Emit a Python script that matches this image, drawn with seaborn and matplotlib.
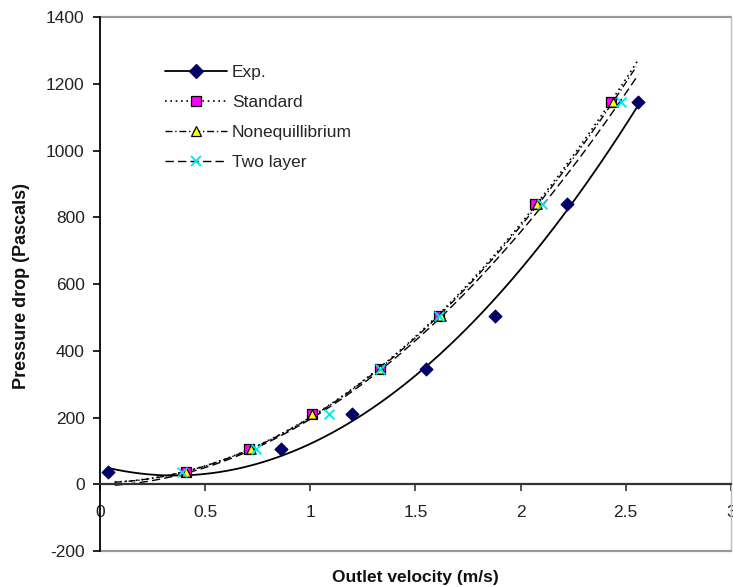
import numpy as np
import pandas as pd
import matplotlib
matplotlib.use("Agg")
import matplotlib.pyplot as plt
from matplotlib.lines import Line2D
import seaborn as sns

sns.set_style("white")
plt.rcParams["font.family"] = ["Liberation Sans", "DejaVu Sans"]

# Pressure drop measured at each operating point (Pa)
pressure_drop = [38, 105, 210, 345, 505, 840, 1145]

# Outlet velocity (m/s) for experiment and the three wall treatments
exp_velocity = [0.04, 0.86, 1.20, 1.55, 1.88, 2.22, 2.56]
standard_velocity = [0.41, 0.71, 1.01, 1.33, 1.61, 2.07, 2.43]
noneq_velocity = [0.41, 0.72, 1.01, 1.33, 1.62, 2.08, 2.44]
twolayer_velocity = [0.39, 0.74, 1.09, 1.33, 1.61, 2.10, 2.48]

series_names = ["Exp.", "Standard", "Nonequillibrium", "Two layer"]
x_ticks = [0, 0.5, 1, 1.5, 2, 2.5, 3]
y_ticks = [-200, 0, 200, 400, 600, 800, 1000, 1200, 1400]

velocities = [exp_velocity, standard_velocity, noneq_velocity, twolayer_velocity]
styles = {
    "Exp.": dict(marker="D", face="#000066", edge="#000066", size=42, ls="-", lw=1.3, span=(0.04, 2.56)),
    "Standard": dict(marker="s", face="#FF00FF", edge="black", size=45, ls=(0, (1, 2.2)), lw=1.2, span=(0.07, 2.56)),
    "Nonequillibrium": dict(marker="^", face="#FFFF00", edge="black", size=45, ls=(0, (5, 2, 1, 2)), lw=1.0, span=(0.07, 2.55)),
    "Two layer": dict(marker="x", face="#00E5EE", edge="#00E5EE", size=50, ls=(0, (6, 3)), lw=1.0, span=(0.07, 2.56)),
}

FS = 12.5

fig = plt.figure(figsize=(7.33, 5.87), dpi=100)
ax = fig.add_axes([0.1364, 0.0613, 0.8606, 0.9097])

for name, vel in zip(series_names, velocities):
    st = styles[name]
    df = pd.DataFrame({"v": vel, "dp": pressure_drop})
    # second-order polynomial trendline through each series
    coef = np.polyfit(df["v"], df["dp"], 2)
    xs = np.linspace(st["span"][0], st["span"][1], 200)
    trend = pd.DataFrame({"v": xs, "dp": np.polyval(coef, xs)})
    sns.lineplot(data=trend, x="v", y="dp", ax=ax, color="black",
                 linestyle=st["ls"], linewidth=st["lw"], sort=False, zorder=2)
    if st["marker"] == "x":
        sns.scatterplot(data=df, x="v", y="dp", ax=ax, marker="x", s=st["size"],
                        color=st["face"], linewidth=1.3, zorder=3)
    else:
        sns.scatterplot(data=df, x="v", y="dp", ax=ax, marker=st["marker"], s=st["size"],
                        color=st["face"], edgecolor=st["edge"], linewidth=0.9, zorder=3)

ax.set_xlim(0, 3)
ax.set_ylim(-200, 1400)
ax.set_xticks(x_ticks)
ax.set_xticklabels(["0", "0.5", "1", "1.5", "2", "2.5", "3"])
ax.set_yticks(y_ticks)
ax.set_yticklabels([str(v) for v in y_ticks])

# x axis runs along zero pressure drop, plot frame drawn in grey
ax.spines["bottom"].set_position(("data", 0))
ax.spines["bottom"].set_color("#333333")
ax.spines["bottom"].set_linewidth(1.6)
ax.spines["left"].set_color("black")
ax.spines["left"].set_linewidth(1.3)
ax.spines["top"].set_visible(False)
ax.spines["right"].set_visible(False)
ax.plot([0, 1], [1, 1], transform=ax.transAxes, color="#999999", lw=1.6, clip_on=False, zorder=1)
ax.plot([1, 1], [0, 1], transform=ax.transAxes, color="#bbbbbb", lw=1.0, clip_on=False, zorder=1)
ax.plot([0, 1], [0, 0], transform=ax.transAxes, color="#999999", lw=1.6, clip_on=False, zorder=1)

ax.tick_params(axis="x", direction="out", length=5, width=1.2, color="#333333",
               pad=10, labelsize=FS, labelcolor="#222222", bottom=True)
ax.tick_params(axis="y", direction="out", length=5, width=1.2, color="black",
               pad=6, labelsize=FS, labelcolor="#222222", left=True)

ax.set_xlabel("")
ax.set_ylabel("")
fig.text(0.567, 0.017, "Outlet velocity (m/s)", ha="center", va="center",
         fontsize=FS, fontweight="bold", color="#111111")
fig.text(0.030, 0.512, "Pressure drop (Pascals)", ha="center", va="center",
         rotation=90, fontsize=13, fontweight="bold", color="#111111")

handles = []
for name in series_names:
    st = styles[name]
    if st["marker"] == "x":
        h = Line2D([], [], color="black", linestyle=st["ls"], linewidth=st["lw"],
                   marker="x", markersize=7, markeredgecolor=st["face"], markeredgewidth=1.3)
    else:
        h = Line2D([], [], color="black", linestyle=st["ls"], linewidth=st["lw"],
                   marker=st["marker"], markersize=7, markerfacecolor=st["face"],
                   markeredgecolor=st["edge"], markeredgewidth=0.9)
    handles.append(h)

fig.legend(handles, series_names, loc="upper left", bbox_to_anchor=(0.225, 0.889),
           frameon=False, fontsize=FS, handlelength=3.55, handletextpad=0.3,
           labelspacing=0.85, borderaxespad=0, borderpad=0)

fig.savefig("out.png", dpi=100)
